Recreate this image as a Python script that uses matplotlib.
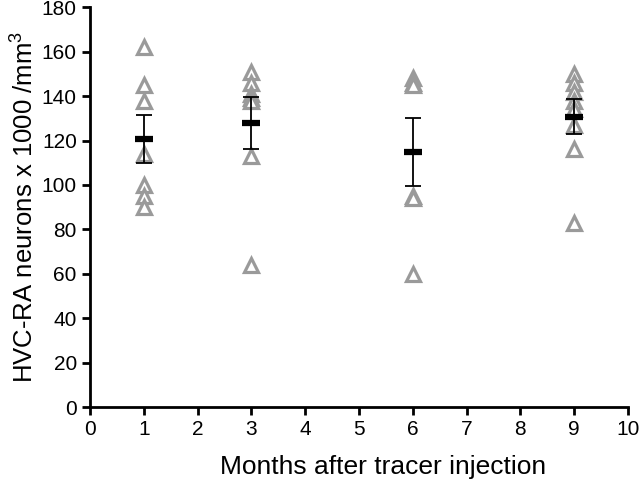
import matplotlib

matplotlib.use("Agg")
import matplotlib.pyplot as plt
import numpy as np

plt.rcParams["font.family"] = ["Liberation Sans", "DejaVu Sans"]
plt.rcParams["mathtext.fontset"] = "custom"
plt.rcParams["mathtext.rm"] = "Liberation Sans"

# months after injection and individual bird values
months = [1, 3, 6, 9]
month1_values = [162, 145, 138, 114, 100, 95, 90]
month3_values = [151, 146, 141, 139, 138, 113, 64]
month6_values = [148, 146, 145, 95, 94, 60]
month9_values = [150, 146, 142, 138, 134, 127, 116, 83]
group_values = [month1_values, month3_values, month6_values, month9_values]

# means and SEM
means = [120.7, 128.0, 115.0, 130.8]
sems = [10.7, 11.8, 15.3, 8.0]

x_ticks = list(range(0, 11))
y_ticks = list(range(0, 181, 20))

fig = plt.figure(figsize=(6.4, 4.84), dpi=100)
ax = fig.add_axes([0.1406, 0.159, 0.8406, 0.826])

for month, values in zip(months, group_values):
    ax.plot(
        [month] * len(values),
        values,
        linestyle="none",
        marker="^",
        markersize=10.5,
        markerfacecolor="white",
        markeredgecolor="#9a9a9a",
        markeredgewidth=2.3,
        zorder=2,
    )

ax.errorbar(
    months,
    means,
    yerr=sems,
    fmt="none",
    ecolor="black",
    elinewidth=1.3,
    capsize=6,
    capthick=1.3,
    zorder=3,
)
ax.plot(
    months,
    means,
    linestyle="none",
    marker="_",
    markersize=13,
    markeredgewidth=4.5,
    color="black",
    zorder=4,
)

ax.set_xlim(0, 10)
ax.set_ylim(0, 180)
ax.set_xticks(x_ticks)
ax.set_yticks(y_ticks)
ax.spines["top"].set_visible(False)
ax.spines["right"].set_visible(False)
ax.spines["left"].set_linewidth(2)
ax.spines["bottom"].set_linewidth(2)
ax.tick_params(axis="both", direction="out", length=6, width=2, labelsize=15, colors="black")
ax.set_xlabel("Months after tracer injection", fontsize=19)
ax.xaxis.set_label_coords(0.545, -0.12, transform=ax.transAxes)
ax.xaxis.label.set_verticalalignment("top")
ax.set_ylabel("HVC-RA neurons x 1000 /mm$^3$", fontsize=18.5, labelpad=3)

fig.savefig("out.png", dpi=100)
